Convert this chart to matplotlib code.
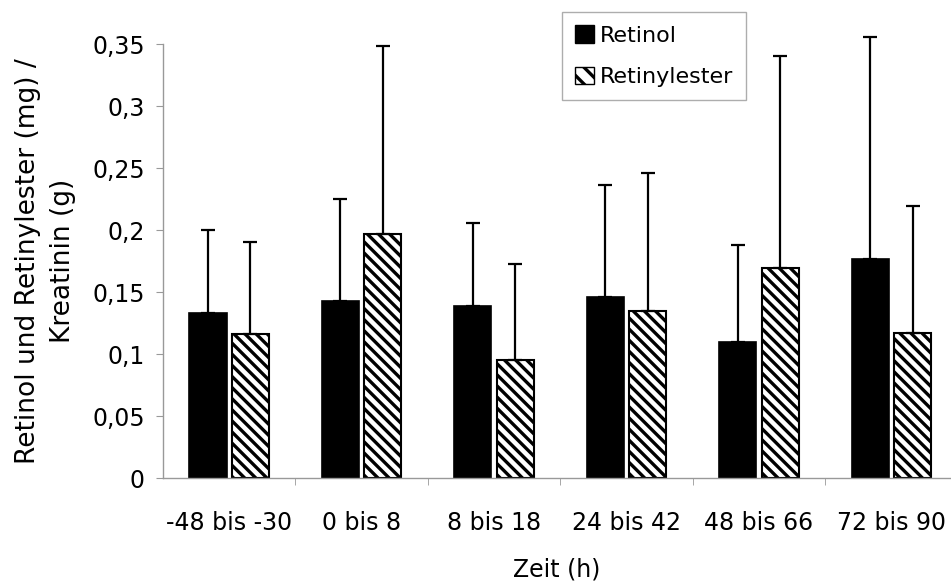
import matplotlib
matplotlib.use("Agg")
import matplotlib.pyplot as plt
import matplotlib.patches as mpatches
import numpy as np

# values
zeit = ['-48 bis -30', '0 bis 8', '8 bis 18', '24 bis 42', '48 bis 66', '72 bis 90']
retinol = [0.133, 0.143, 0.139, 0.146, 0.110, 0.177]
retinol_sd = [0.067, 0.082, 0.067, 0.090, 0.078, 0.179]
ester = [0.116, 0.197, 0.095, 0.135, 0.169, 0.117]
ester_sd = [0.074, 0.151, 0.078, 0.111, 0.171, 0.102]
ytick_labels = ['0', '0,05', '0,1', '0,15', '0,2', '0,25', '0,3', '0,35']

plt.rcParams['font.family'] = ['DejaVu Sans']
plt.rcParams['hatch.linewidth'] = 2.4

fig = plt.figure(figsize=(9.51, 5.83), dpi=100)
ax = fig.add_axes([0.1714, 0.180, 0.8286, 0.7445])

x = np.arange(len(zeit))
w = 0.28
off = 0.16

ax.bar(x - off, retinol, w, color='black', edgecolor='black', linewidth=1.2, zorder=2)
ax.bar(x + off, ester, w, color='white', edgecolor='black', linewidth=1.5,
       hatch='\\\\\\', zorder=2)

# only the upper half of the error bars is shown
for xs, ys, es in [(x - off, retinol, retinol_sd), (x + off, ester, ester_sd)]:
    eb = ax.errorbar(xs, ys, yerr=[np.zeros(len(ys)), es], fmt='none', ecolor='black',
                     elinewidth=1.6, capsize=5, capthick=1.6, zorder=3)
    for a in eb.lines[1] + eb.lines[2]:
        a.set_clip_on(False)

ax.set_xlim(-0.5, 5.45)
ax.set_ylim(0, 0.35)
ax.set_yticks(np.arange(0, 0.351, 0.05))
ax.set_yticklabels(ytick_labels)
ax.set_xticks(x)
ax.set_xticklabels(zeit)
ax.set_xticks(np.arange(0.5, 5.5, 1), minor=True)
ax.tick_params(axis='x', which='major', length=0, pad=24, labelsize=17)
ax.tick_params(axis='x', which='minor', length=5, color='#999999', direction='out')
ax.tick_params(axis='y', length=5, color='#999999', labelsize=17, pad=8)

for s in ['top', 'right']:
    ax.spines[s].set_visible(False)
for s in ['left', 'bottom']:
    ax.spines[s].set_color('#999999')
    ax.spines[s].set_linewidth(1.0)

ax.set_xlabel('Zeit (h)', fontsize=17, labelpad=16)
ax.set_ylabel('Retinol und Retinylester (mg) /\nKreatinin (g)', fontsize=19, linespacing=1.45)
ax.yaxis.set_label_coords(-0.110, 0.5)

handles = [mpatches.Patch(facecolor='black', edgecolor='black', label='Retinol'),
           mpatches.Patch(facecolor='white', edgecolor='black', hatch='\\\\', label='Retinylester')]
leg = ax.legend(handles=handles, loc='upper left', bbox_to_anchor=(562 / 951, 1 - 12 / 583),
                bbox_transform=fig.transFigure, fontsize=16, fancybox=False,
                handlelength=0.85, handleheight=0.85, handletextpad=0.25, borderpad=0.6,
                labelspacing=0.93, borderaxespad=0)
leg.get_frame().set_edgecolor('#999999')
leg.get_frame().set_linewidth(1.0)

fig.savefig('out.png', dpi=100)
